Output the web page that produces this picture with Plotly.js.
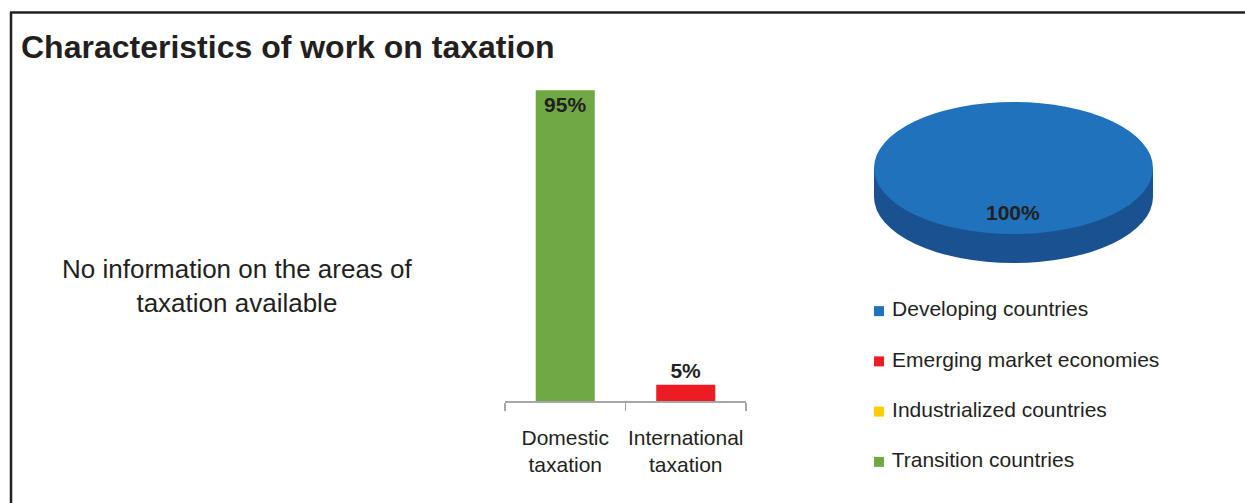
<!DOCTYPE html>
<html>
<head>
<meta charset="utf-8">
<script src="https://cdn.plot.ly/plotly-3.0.1.min.js"></script>
<style>
  html, body { margin: 0; padding: 0; background: #ffffff; }
  #chart { width: 1245px; height: 503px; }
</style>
</head>
<body>
<div id="chart"></div>
<script>
// ---- Data ----
const taxAreas = ['Domestic<br>taxation', 'International<br>taxation'];
const taxShares = [95, 5];
const barColors = ['#70a845', '#ec1c24'];

const countryGroups = ['Developing countries', 'Emerging market economies', 'Industrialized countries', 'Transition countries'];
const groupShares = [100, 0, 0, 0];
const groupColors = ['#1f72bb', '#ec1c24', '#ffcc00', '#70a845'];

const chartTitle = 'Characteristics of work on taxation';
const noInfoText = 'No information on the areas of<br>taxation available';

// ---- Helpers (pixel -> paper) ----
const W = 1245, H = 503;
const px = x => x / W;
const py = y => 1 - y / H;

const FONT = 'Liberation Sans, Arial, Helvetica, sans-serif';
const TXT = '#231f20';

const totalShare = groupShares.reduce((a, b) => a + b, 0);

const traces = [
  {
    type: 'bar',
    x: taxAreas,
    y: taxShares,
    width: 0.49,
    marker: { color: barColors, line: { width: 0 } },
    texttemplate: '%{y}%',
    textposition: ['inside', 'outside'],
    insidetextanchor: 'end',
    textfont: { family: FONT, size: 21, color: TXT, weight: 'bold' },
    insidetextfont: { family: FONT, size: 21, color: TXT, weight: 'bold' },
    outsidetextfont: { family: FONT, size: 21, color: TXT, weight: 'bold' },
    cliponaxis: false,
    hoverinfo: 'x+y',
    showlegend: false,
    xaxis: 'x', yaxis: 'y'
  },
  {
    type: 'pie',
    labels: countryGroups,
    values: groupShares,
    marker: { colors: groupColors, line: { width: 0 } },
    sort: false,
    textinfo: 'none',
    showlegend: false,
    domain: { x: [px(874), px(1153)], y: [py(307.5), py(28.5)] }
  },
  {
    type: 'scatter',
    mode: 'markers+text',
    x: countryGroups.map(() => 0),
    y: countryGroups,
    text: countryGroups,
    texttemplate: ' %{text}',
    textposition: 'middle right',
    textfont: { family: FONT, size: 21, color: TXT },
    marker: { symbol: 'square', size: 10, color: groupColors },
    cliponaxis: false,
    hoverinfo: 'text',
    showlegend: false,
    xaxis: 'x3', yaxis: 'y3'
  }
];

const layout = {
  width: W, height: H,
  margin: { l: 0, r: 0, t: 0, b: 0 },
  paper_bgcolor: '#ffffff',
  plot_bgcolor: 'rgba(0,0,0,0)',
  font: { family: FONT, color: TXT },
  title: {
    text: '<b>' + chartTitle + '</b>',
    x: px(21), xanchor: 'left',
    y: py(47), yanchor: 'middle',
    font: { family: FONT, size: 32, color: TXT }
  },
  xaxis: {
    domain: [px(505), px(746)],
    type: 'category',
    showline: true, linecolor: '#a6a6a6', linewidth: 1.5,
    ticks: 'outside', tickson: 'boundaries', ticklen: 8, tickcolor: '#a6a6a6', tickwidth: 1.5,
    tickangle: 0,
    ticklabelstandoff: 17,
    tickfont: { family: FONT, size: 21, color: TXT },
    showgrid: false, zeroline: false, fixedrange: true
  },
  yaxis: {
    domain: [py(401), py(74)],
    range: [0, 100],
    visible: false, showgrid: false, zeroline: false, fixedrange: true
  },
  xaxis3: {
    domain: [px(879), 1], range: [0, 1],
    visible: false, showgrid: false, zeroline: false, fixedrange: true
  },
  yaxis3: {
    domain: [py(487), py(286)],
    type: 'category', range: [3.5, -0.5],
    visible: false, showgrid: false, zeroline: false, fixedrange: true
  },
  annotations: [
    {
      xref: 'paper', yref: 'paper',
      x: px(237), y: py(286), xanchor: 'center', yanchor: 'middle',
      text: noInfoText, showarrow: false, align: 'center',
      font: { family: FONT, size: 26, color: TXT }
    },
    {
      xref: 'paper', yref: 'paper',
      x: px(1013), y: py(213), xanchor: 'center', yanchor: 'middle',
      text: '<b>' + Math.round(groupShares[0] / totalShare * 100) + '%</b>', showarrow: false,
      font: { family: FONT, size: 21, color: TXT }
    }
  ],
  shapes: [
    // frame
    { type: 'line', xref: 'paper', yref: 'paper', x0: px(10), x1: 1, y0: py(12.5), y1: py(12.5), line: { color: TXT, width: 2.5 } },
    { type: 'line', xref: 'paper', yref: 'paper', x0: px(11), x1: px(11), y0: py(12), y1: 0, line: { color: TXT, width: 2.5 } },
    // 3D pie side (decoration)
    { type: 'rect', layer: 'below', xref: 'paper', yref: 'paper', x0: px(874), x1: px(1153), y0: py(197), y1: py(168), fillcolor: '#1a5291', line: { width: 0 } },
    { type: 'circle', layer: 'below', xref: 'paper', yref: 'paper', x0: px(874), x1: px(1153), y0: py(263), y1: py(131), fillcolor: '#1a5291', line: { width: 0 } }
  ]
};

Plotly.newPlot('chart', traces, layout, { displayModeBar: false, staticPlot: true }).then(() => {
  // flatten the pie into an ellipse (top face of the 3D pie)
  const cy = 168, s = 66 / 139.5;
  const pl = document.querySelector('.pielayer');
  if (pl) pl.setAttribute('transform', 'matrix(1,0,0,' + s + ',0,' + (cy * (1 - s)) + ')');
});
</script>
</body>
</html>
